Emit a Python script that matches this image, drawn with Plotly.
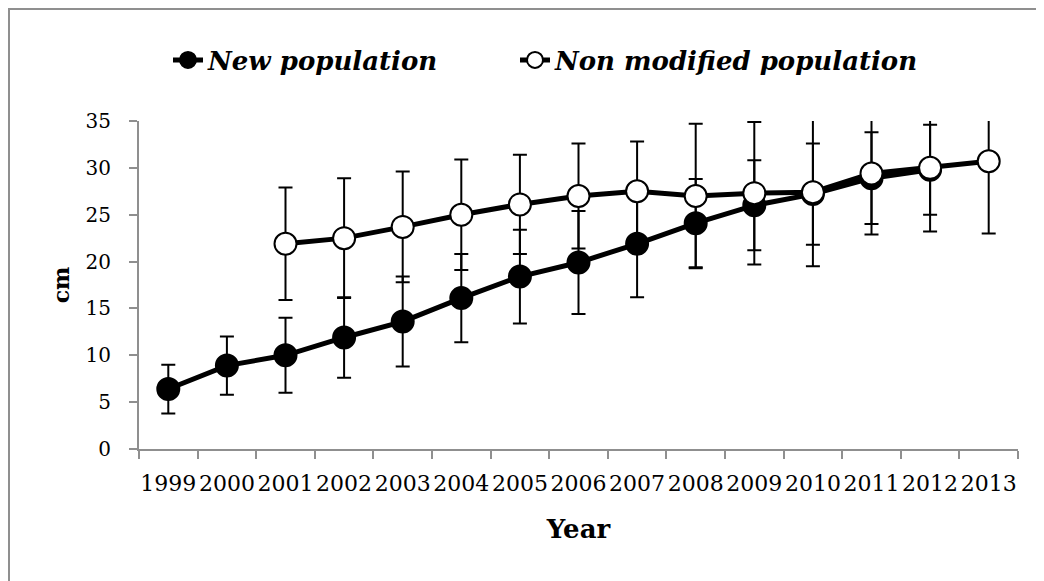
import plotly.graph_objects as go

years = [str(y) for y in range(1999, 2014)]

new_years = years[:14]
new_mean = [6.4, 8.9, 10.0, 11.9, 13.6, 16.1, 18.4, 19.9, 21.9, 24.1, 26.0, 27.2, 28.9, 29.8]
new_err = [2.6, 3.1, 4.0, 4.3, 4.8, 4.7, 5.0, 5.5, 5.7, 4.7, 4.8, 5.4, 4.9, 4.8]

non_years = years[2:]
non_mean = [21.9, 22.5, 23.7, 25.0, 26.1, 27.0, 27.5, 27.0, 27.3, 27.4, 29.4, 30.0, 30.7]
non_err = [6.0, 6.4, 5.9, 5.9, 5.3, 5.6, 5.3, 7.7, 7.6, 7.9, 6.5, 6.8, 7.7]

y_ticks = [0, 5, 10, 15, 20, 25, 30, 35]

SERIF = "DejaVu Serif"
# page is offset by the 8px body margin
W, H = 1036, 573
L, R, T, B = 131, 26, 113, 132
pw, ph = W - L - R, H - T - B

LEG_FONT = dict(family=SERIF, size=26, weight="bold", style="italic", color="black")

fig = go.Figure()
fig.add_trace(go.Scatter(
    x=new_years, y=new_mean, name="New population", mode="lines+markers",
    line=dict(color="black", width=5),
    marker=dict(symbol="circle", size=22, color="black", line=dict(color="black", width=2)),
    error_y=dict(type="data", array=new_err, visible=True, color="black", thickness=2, width=7),
    legend="legend",
))
fig.add_trace(go.Scatter(
    x=non_years, y=non_mean, name="Non modified population", mode="lines+markers",
    line=dict(color="black", width=5),
    marker=dict(symbol="circle", size=22, color="white", line=dict(color="black", width=2)),
    error_y=dict(type="data", array=non_err, visible=True, color="black", thickness=2, width=7),
    legend="legend2",
))

# outer frame
fig.add_shape(type="rect", xref="paper", yref="paper",
              x0=(1 - L) / pw, x1=(W + 5 - L) / pw,
              y0=(H - B - (H + 5)) / ph, y1=(H - B - 1) / ph,
              line=dict(color="#8f8f8f", width=2), fillcolor="rgba(0,0,0,0)", layer="below")

leg_y = (H - B - 52) / ph
fig.update_layout(
    width=W, height=H,
    margin=dict(l=L, r=R, t=T, b=B, autoexpand=False),
    paper_bgcolor="white", plot_bgcolor="white",
    font=dict(family=SERIF, color="black"),
    showlegend=True,
    legend=dict(orientation="h", x=(160 - L) / pw, xanchor="left", y=leg_y, yanchor="middle",
                font=LEG_FONT, bgcolor="rgba(0,0,0,0)", itemsizing="trace"),
    legend2=dict(orientation="h", x=(507 - L) / pw, xanchor="left", y=leg_y, yanchor="middle",
                 font=LEG_FONT, bgcolor="rgba(0,0,0,0)", itemsizing="trace"),
    xaxis=dict(
        type="category", categoryorder="array", categoryarray=years,
        range=[-0.5, 14.5],
        showline=True, linecolor="#8f8f8f", linewidth=2,
        ticks="outside", ticklen=8, tickcolor="#8f8f8f", tickwidth=2,
        tickson="boundaries", showgrid=False, zeroline=False,
        tickangle=0,
        tickfont=dict(family=SERIF, size=22, color="black"),
        ticklabelstandoff=14,
        title=dict(text="Year", font=dict(family=SERIF, size=26, weight="bold", color="black"), standoff=24),
        automargin=False,
    ),
    yaxis=dict(
        range=[0, 35], tickvals=y_ticks,
        showline=True, linecolor="#8f8f8f", linewidth=2,
        ticks="outside", ticklen=8, tickcolor="#8f8f8f", tickwidth=2,
        showgrid=False, zeroline=False,
        tickfont=dict(family=SERIF, size=20, color="black"),
        ticklabelstandoff=14,
        title=dict(text="cm", font=dict(family=SERIF, size=22, weight="bold", color="black"), standoff=10),
        automargin=False,
    ),
)

fig.write_html("out.html")
